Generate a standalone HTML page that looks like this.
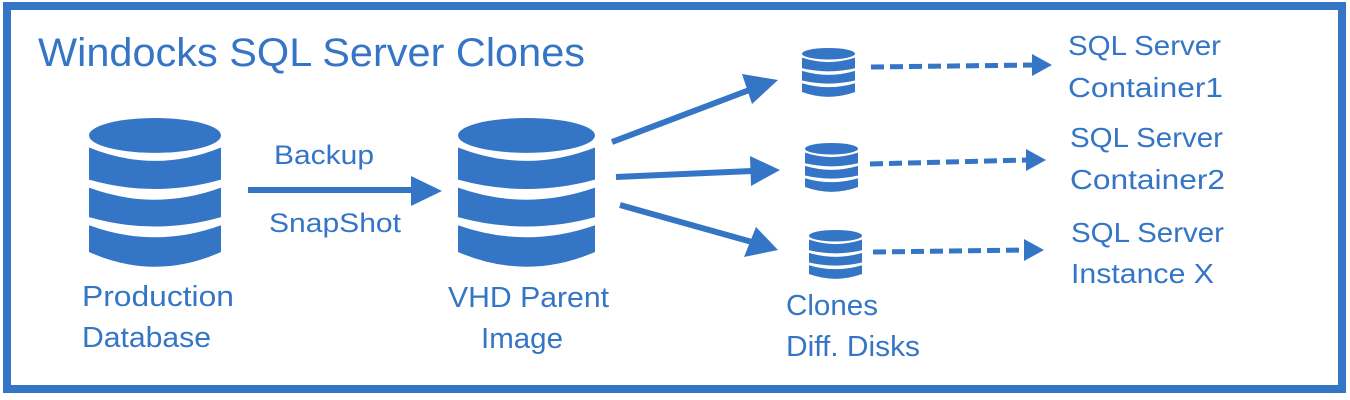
<!DOCTYPE html>
<html><head><meta charset="utf-8"><style>
html,body{margin:0;padding:0;background:#fff}
svg{display:block}
text{font-family:"Liberation Sans",sans-serif;fill:#3575c6}
</style></head><body>
<svg width="1350" height="400" viewBox="0 0 1350 400">
<defs>
<g id="cyl">
 <ellipse cx="50" cy="13" rx="50" ry="13" fill="#3575c6"/>
 <path d="M0 22 Q50 42 100 22 L100 46 Q50 60 0 46Z" fill="#3575c6"/>
 <path d="M0 52 Q50 70 100 52 L100 74 Q50 88 0 74Z" fill="#3575c6"/>
 <path d="M0 80 Q50 98 100 80 L100 100 Q50 122 0 100Z" fill="#3575c6"/>
</g>
</defs>
<rect x="7" y="6" width="1335" height="383" fill="none" stroke="#3575c6" stroke-width="8"/>
<text x="38" y="66" font-size="40" textLength="547" lengthAdjust="spacingAndGlyphs">Windocks SQL Server Clones</text>

<use href="#cyl" transform="translate(89,118) scale(1.32,1.34)"/>
<text x="82" y="306" font-size="29" textLength="152" lengthAdjust="spacingAndGlyphs">Production</text>
<text x="82" y="347" font-size="29" textLength="129" lengthAdjust="spacingAndGlyphs">Database</text>

<text x="274" y="164" font-size="27" textLength="100" lengthAdjust="spacingAndGlyphs">Backup</text>
<text x="269" y="232" font-size="27" textLength="132" lengthAdjust="spacingAndGlyphs">SnapShot</text>
<line x1="248" y1="190" x2="415" y2="190" stroke="#3575c6" stroke-width="6"/>
<polygon points="411,176 442,191 411,206" fill="#3575c6"/>

<use href="#cyl" transform="translate(458,118) scale(1.37,1.34)"/>
<text x="448" y="307" font-size="29" textLength="161" lengthAdjust="spacingAndGlyphs">VHD Parent</text>
<text x="481" y="348" font-size="29" textLength="82" lengthAdjust="spacingAndGlyphs">Image</text>

<g stroke="#3575c6" stroke-width="6">
<line x1="612" y1="142" x2="752" y2="89"/>
<line x1="616" y1="177" x2="752" y2="171"/>
<line x1="620" y1="205" x2="752" y2="242"/>
</g>
<polygon points="742,74 778,80 752,104" fill="#3575c6"/>
<polygon points="750,156 780,170 751,186" fill="#3575c6"/>
<polygon points="756,227 778,250 744,257" fill="#3575c6"/>

<use href="#cyl" transform="translate(802,48) scale(0.53,0.44)"/>
<use href="#cyl" transform="translate(805,143) scale(0.53,0.44)"/>
<use href="#cyl" transform="translate(809,230) scale(0.53,0.44)"/>
<text x="786" y="315" font-size="29" textLength="92" lengthAdjust="spacingAndGlyphs">Clones</text>
<text x="786" y="356" font-size="29" textLength="134" lengthAdjust="spacingAndGlyphs">Diff. Disks</text>

<g stroke="#3575c6" stroke-width="5" stroke-dasharray="13,6">
<line x1="871" y1="67" x2="1035" y2="65"/>
<line x1="870" y1="164" x2="1026" y2="160"/>
<line x1="873" y1="252" x2="1026" y2="250"/>
</g>
<polygon points="1032,54 1052,65 1032,76" fill="#3575c6"/>
<polygon points="1026,149 1046,160 1026,171" fill="#3575c6"/>
<polygon points="1024,239 1044,250 1024,261" fill="#3575c6"/>

<g font-size="28">
<text x="1068" y="55" textLength="153" lengthAdjust="spacingAndGlyphs">SQL Server</text>
<text x="1068" y="97" textLength="155" lengthAdjust="spacingAndGlyphs">Container1</text>
<text x="1070" y="147" textLength="153" lengthAdjust="spacingAndGlyphs">SQL Server</text>
<text x="1070" y="189" textLength="155" lengthAdjust="spacingAndGlyphs">Container2</text>
<text x="1071" y="242" textLength="153" lengthAdjust="spacingAndGlyphs">SQL Server</text>
<text x="1071" y="283" textLength="143" lengthAdjust="spacingAndGlyphs">Instance X</text>
</g>
</svg>
</body></html>
